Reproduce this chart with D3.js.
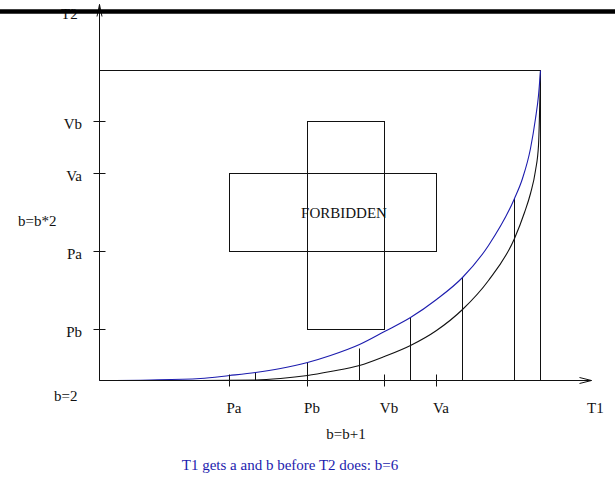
<!DOCTYPE html>
<html>
<head>
<meta charset="utf-8">
<script src="https://cdn.jsdelivr.net/npm/d3@7"></script>
<style>
    body { margin: 0; background: white; }
</style>
</head>
<body>
<svg id="chart" width="615" height="480"></svg>
<script>

// T1 values on the horizontal axis
var xTickNames = ["Pa", "Pb", "Vb", "Va"];
var xTickValues = [13.0, 20.8, 28.5, 33.7];

// T2 values on the vertical axis
var yTickNames = ["Vb", "Va", "Pa", "Pb"];
var yTickValues = [25.9, 20.7, 12.9, 5.1];

// upper curve (blue)
var blueT1 = [0, 5.1, 10.1, 13.0, 15.6, 18.1, 20.8, 23.1, 26.0, 28.5, 31.1, 33.7, 36.3, 38.9, 41.5, 42.3, 43.1, 43.6, 43.9, 44.1];
var blueT2 = [0, 0.05, 0.2, 0.5, 0.8, 1.2, 1.8, 2.5, 3.6, 4.9, 6.3, 8.1, 10.3, 13.5, 18.2, 20.2, 23.2, 26.2, 28.5, 31.0];

// lower curve (black)
var blackT1 = [0, 10.1, 15.6, 18.1, 20.8, 23.1, 26.0, 28.5, 31.1, 33.7, 36.3, 38.9, 41.5, 42.5, 43.1, 43.6, 43.9, 44.1];
var blackT2 = [0, 0, 0.05, 0.2, 0.5, 0.9, 1.5, 2.4, 3.5, 5.0, 7.1, 10.0, 14.2, 16.8, 18.7, 21.0, 23.5, 31.0];

// vertical steps b=b+1 : where they stand and how high they go
var stepT1 = [13.0, 15.6, 20.8, 26.0, 31.1, 36.3, 41.5, 44.1];
var stepT2 = [0.5, 0.8, 1.8, 3.2, 6.3, 10.3, 18.2, 31.0];

var t1Max = 49.2, t2Max = 37.6, boxTop = 31.0, boxRight = 44.1;

var serif = "'Liberation Serif', 'Times New Roman', Times, 'DejaVu Serif', serif";


var svg = d3.select("#chart");

var x = d3.scaleLinear().domain([0, t1Max]).range([99, 591]);
var y = d3.scaleLinear().domain([0, t2Max]).range([380, 4]);

var g = svg.append("g")
    .attr("transform", "translate(0.5,0.5)")
    .attr("fill", "none")
    .attr("stroke", "#111")
    .attr("stroke-width", 1);

// box to the corner
g.append("path")
    .attr("d", "M" + x(0) + "," + y(boxTop) + "H" + x(boxRight) + "V" + y(0));

// forbidden cross
g.append("rect")
    .attr("x", x(xTickValues[0]))
    .attr("y", y(yTickValues[1]))
    .attr("width", x(xTickValues[3]) - x(xTickValues[0]))
    .attr("height", y(yTickValues[2]) - y(yTickValues[1]));

g.append("rect")
    .attr("x", x(xTickValues[1]))
    .attr("y", y(yTickValues[0]))
    .attr("width", x(xTickValues[2]) - x(xTickValues[1]))
    .attr("height", y(yTickValues[3]) - y(yTickValues[0]));

// steps
g.selectAll("line.step")
    .data(stepT1)
    .enter()
    .append("line")
    .attr("class", "step")
    .attr("x1", function (d) { return x(d); })
    .attr("x2", function (d) { return x(d); })
    .attr("y1", y(0))
    .attr("y2", function (d, i) { return y(stepT2[i]); });

// curves
var line = d3.line()
    .x(function (d) { return x(d[0]); })
    .y(function (d) { return y(d[1]); })
    .curve(d3.curveMonotoneX);

g.append("path")
    .datum(d3.zip(blackT1, blackT2))
    .attr("d", line)
    .attr("stroke", "#111")
    .attr("stroke-width", 1.1);

g.append("path")
    .datum(d3.zip(blueT1, blueT2))
    .attr("d", line)
    .attr("stroke", "#1c1cae")
    .attr("stroke-width", 1.1);

// axes with open arrow heads
g.append("path")
    .attr("d", "M" + x(0) + "," + y(0) + "H" + x(t1Max)
        + "M" + (x(t1Max) - 12) + "," + (y(0) - 3) + "L" + x(t1Max) + "," + y(0) + "L" + (x(t1Max) - 12) + "," + (y(0) + 3));

g.append("path")
    .attr("d", "M" + x(0) + "," + y(0) + "V" + y(t2Max)
        + "M" + (x(0) - 2.5) + "," + (y(t2Max) + 12) + "L" + x(0) + "," + y(t2Max) + "L" + (x(0) + 2.5) + "," + (y(t2Max) + 12));

// tick marks
g.selectAll("line.xtick")
    .data(xTickValues)
    .enter()
    .append("line")
    .attr("class", "xtick")
    .attr("x1", function (d) { return x(d); })
    .attr("x2", function (d) { return x(d); })
    .attr("y1", y(0) - 6)
    .attr("y2", y(0) + 6);

g.selectAll("line.ytick")
    .data(yTickValues)
    .enter()
    .append("line")
    .attr("class", "ytick")
    .attr("y1", function (d) { return y(d); })
    .attr("y2", function (d) { return y(d); })
    .attr("x1", x(0) - 6)
    .attr("x2", x(0) + 6);


// labels
var labels = svg.append("g")
    .attr("font-family", serif)
    .attr("font-size", 15)
    .attr("fill", "#111");

labels.selectAll("text.xlab")
    .data(xTickNames)
    .enter()
    .append("text")
    .attr("class", "xlab")
    .attr("text-anchor", "middle")
    .attr("x", function (d, i) { return x(xTickValues[i]) + 5; })
    .attr("y", 413)
    .text(function (d) { return d; });

labels.selectAll("text.ylab")
    .data(yTickNames)
    .enter()
    .append("text")
    .attr("class", "ylab")
    .attr("text-anchor", "end")
    .attr("x", 82)
    .attr("y", function (d, i) { return y(yTickValues[i]) + 8; })
    .text(function (d) { return d; });

labels.append("text").attr("x", 587).attr("y", 413).text("T1");
labels.append("text").attr("x", 61).attr("y", 19).text("T2");
labels.append("text").attr("x", 346).attr("y", 439).attr("text-anchor", "middle").text("b=b+1");
labels.append("text").attr("x", 18).attr("y", 226).text("b=b*2");
labels.append("text").attr("x", 54).attr("y", 401).text("b=2");
labels.append("text").attr("x", 344).attr("y", 218).attr("text-anchor", "middle").text("FORBIDDEN");

labels.append("text")
    .attr("x", 290)
    .attr("y", 470)
    .attr("text-anchor", "middle")
    .attr("fill", "#1c1cae")
    .text("T1 gets a and b before T2 does: b=6");

// heavy rule across the top
svg.append("line")
    .attr("x1", 0)
    .attr("x2", 615)
    .attr("y1", 11.5)
    .attr("y2", 11.5)
    .attr("stroke", "#000")
    .attr("stroke-width", 4.5);

</script>
</body>
</html>
